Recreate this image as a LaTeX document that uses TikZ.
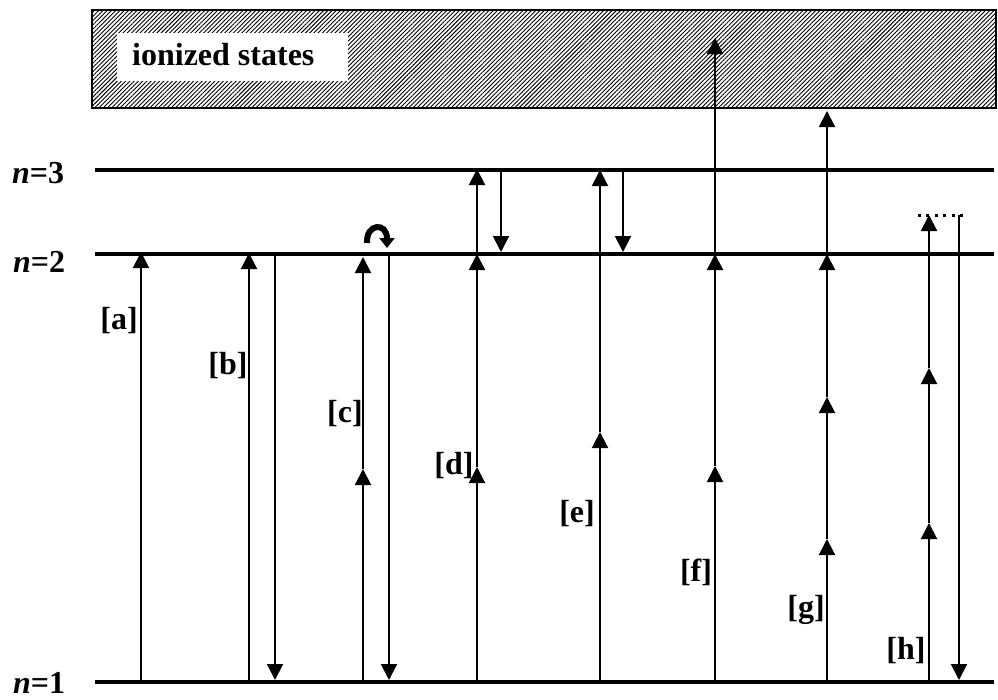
\documentclass[tikz,border=0pt]{standalone}
\usepackage{fontspec}
\setmainfont{Liberation Serif}
\usetikzlibrary{arrows.meta,patterns.meta}
\begin{document}
\begin{tikzpicture}[x=1pt,y=-1pt,
  level/.style={line width=4pt},
  head/.style={line width=2pt,-{Triangle[width=16pt,length=16pt]}},
  tag/.style={font=\fontsize{32}{38}\selectfont\bfseries, inner sep=0pt},
]
\useasboundingbox (0,0) rectangle (998,699);

% continuum of ionized states
\node[draw=black, line width=2pt, anchor=north west, inner sep=0pt,
      minimum width=904pt, minimum height=98pt,
      pattern={Lines[angle=45,distance=3pt,line width=0.9pt]}] (cont) at (92,10) {};
\fill[white] (117,33) rectangle (348,81);
\node[tag, anchor=base west] (ion) at (132,65) {ionized states};

% bound levels
\coordinate (L3w) at (95,170);  \coordinate (L3e) at (994,170);
\coordinate (L2w) at (95,254);  \coordinate (L2e) at (994,254);
\coordinate (L1w) at (95,682);  \coordinate (L1e) at (994,682);
\draw[level] (L3w) -- (L3e);
\draw[level] (L2w) -- (L2e);
\draw[level] (L1w) -- (L1e);
\node[tag, anchor=base west] (n3) at (12,183) {\itshape n\upshape=3};
\node[tag, anchor=base west] (n2) at (13,272) {\itshape n\upshape=2};
\node[tag, anchor=base west] (n1) at (13,693) {\itshape n\upshape=1};

% [a]
\coordinate (a0) at (141,682); \coordinate (a1) at (141,252);
\draw[head] (a0) -- (a1);
% [b]
\coordinate (b0) at (249,682); \coordinate (b1) at (249,253);
\coordinate (b2) at (275,252); \coordinate (b3) at (275,680);
\draw[head] (b0) -- (b1);
\draw[head] (b2) -- (b3);
% [c]
\coordinate (c0) at (363,682); \coordinate (c1) at (363,469); \coordinate (c2) at (363,257);
\coordinate (c3) at (389,252); \coordinate (c4) at (389,680);
\draw[head] (c0) -- (c1);
\draw[head] (c1) -- (c2);
\draw[head] (c3) -- (c4);
\coordinate (cs) at (367,243); \coordinate (ce) at (387,248);
\draw[line width=6pt, -{Triangle[width=15pt,length=10pt]}]
  (cs) .. controls (366,223) and (387,222) .. (ce);
% [d]
\coordinate (d0) at (477,682); \coordinate (d1) at (477,467);
\coordinate (d2) at (477,254); \coordinate (d3) at (477,169);
\coordinate (d4) at (501,170); \coordinate (d5) at (501,252);
\draw[head] (d0) -- (d1);
\draw[head] (d1) -- (d2);
\draw[head] (d2) -- (d3);
\draw[head] (d4) -- (d5);
% [e]
\coordinate (e0) at (600,682); \coordinate (e1) at (600,432); \coordinate (e2) at (600,170);
\coordinate (e3) at (623,170); \coordinate (e4) at (623,252);
\draw[head] (e0) -- (e1);
\draw[head] (e1) -- (e2);
\draw[head] (e3) -- (e4);
% [f]
\coordinate (f0) at (715,682); \coordinate (f1) at (715,466);
\coordinate (f2) at (715,254); \coordinate (f3) at (715,38);
\draw[head] (f0) -- (f1);
\draw[head] (f1) -- (f2);
\draw[head] (f2) -- (f3);
% [g]
\coordinate (g0) at (827,682); \coordinate (g1) at (827,539); \coordinate (g2) at (827,397);
\coordinate (g3) at (827,254); \coordinate (g4) at (827,111);
\draw[head] (g0) -- (g1);
\draw[head] (g1) -- (g2);
\draw[head] (g2) -- (g3);
\draw[head] (g3) -- (g4);
% [h]
\coordinate (h0) at (929,682); \coordinate (h1) at (929,523);
\coordinate (h2) at (929,368); \coordinate (h3) at (929,215);
\coordinate (hv) at (959,215); \coordinate (h4) at (959,680);
\coordinate (vw) at (918,215); \coordinate (ve) at (966,215);
\draw[head] (h0) -- (h1);
\draw[head] (h1) -- (h2);
\draw[head] (h2) -- (h3);
\draw[line width=3pt, dash pattern=on 3pt off 5.4pt] (vw) -- (ve);
\draw[head] (hv) -- (h4);

% process labels
\node[tag] (la) at (119,321) {[a]};
\node[tag] (lb) at (228,366) {[b]};
\node[tag] (lc) at (345,414) {[c]};
\node[tag] (ld) at (454,466) {[d]};
\node[tag] (le) at (577,514) {[e]};
\node[tag] (lf) at (696,572) {[f]};
\node[tag] (lg) at (806,610) {[g]};
\node[tag] (lh) at (906,651) {[h]};
\end{tikzpicture}
\end{document}
